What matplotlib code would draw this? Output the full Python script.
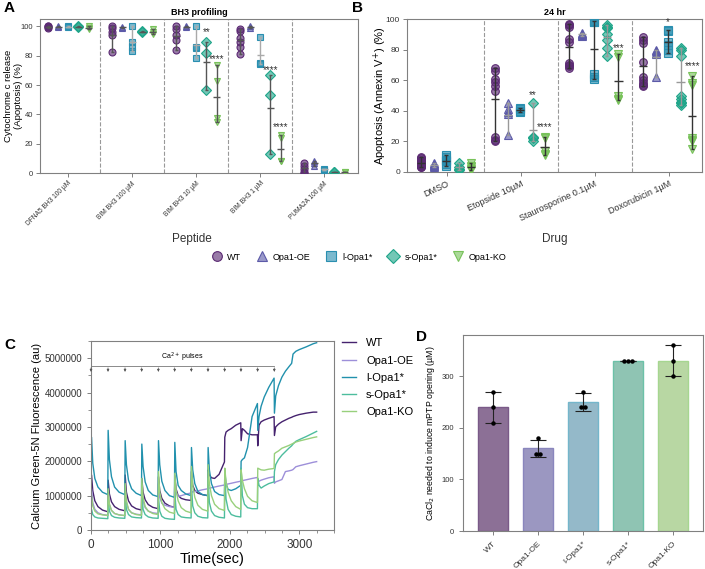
import numpy as np
import matplotlib.pyplot as plt
import matplotlib.ticker as mticker
from matplotlib.lines import Line2D

plt.rcParams['font.family'] = ['Liberation Sans', 'DejaVu Sans']

#region dados
genotipos = ['WT', 'Opa1-OE', 'l-Opa1*', 's-Opa1*', 'Opa1-KO']
cores = ['#5b2a73', '#5c5aa8', '#2a8fb0', '#1ea589', '#78c25a']
marcadores = ['o', '^', 's', 'D', 'v']

# painel A - BH3 profiling (%)
peptides = ['DFNA5 BH3 100 µM', 'BIM BH3 100 µM', 'BIM BH3 10 µM', 'BIM BH3 1 µM', 'PUMA2A 100 µM']
a_wt = [[100, 100, 99.5, 99], [100, 99, 96, 94, 82.5], [100, 98, 94, 91, 84], [98, 97, 92, 89, 86, 81], [7, 5, 3, 1, 0]]
a_oe = [[100, 99.5], [99.5, 99], [100, 99.5], [100, 99], [8.5, 7, 5]]
a_l = [[100, 99.5], [100, 89, 86, 83], [100, 86, 85, 78.5], [92.5, 75, 74], [3, 2]]
a_s = [[100, 99.5], [96.5, 96], [89.5, 82, 56.5], [66.5, 53, 13], [1, 0.5]]
a_ko = [[100, 99, 98.5], [98, 96, 95], [73.5, 63, 37.5, 34.5], [26, 24, 8, 8], [1, 0.5]]
a_estrelas = [(2, 3, '**', 96), (2, 4, '****', 77.5), (3, 3, '****', 70.5), (3, 4, '****', 31.5)]

# painel B - apoptose 24 hr (%)
drogas = ['DMSO', 'Etopside 10µM', 'Staurosporine 0.1µM', 'Doxorubicin 1µM']
b_wt = [[10, 9, 8, 7, 6, 5, 4.5, 4, 3.5, 3], [68, 66, 61, 59, 56, 53, 23, 21, 20],
        [97, 96, 95, 87, 85, 71, 70, 69, 68], [88, 86, 84, 72, 62, 60, 58, 57, 56]]
b_oe = [[6, 5, 4.5, 4, 3.5], [45, 41, 39, 38, 24], [91, 90, 89.5, 89], [80, 79, 78, 77, 62]]
b_l = [[11, 10, 8, 7, 5, 4], [42, 41, 40, 39], [99, 98, 98, 64, 62, 61], [93, 92, 85, 83, 80, 78]]
b_s = [[6, 3, 2, 1.5], [45, 23, 22, 20], [96, 95, 94, 90, 86, 81, 76], [81, 80, 76, 50, 48, 46, 45, 44]]
b_ko = [[6, 4, 3, 2, 1], [23, 22, 14, 12, 11], [77, 75, 50, 48, 47], [63, 58, 57, 22, 21, 20, 15]]
b_estrelas = [(1, 3, '**', 50), (1, 4, '****', 29.5), (2, 4, '***', 81), (3, 2, '*', 98), (3, 4, '****', 69)]

# painel C - Calcium Green-5N (milhoes)
pulsos = [0, 245, 490, 730, 970, 1205, 1445, 1685, 1925, 2160, 2400, 2640]
c_tempo = [0, 8, 25, 55, 100, 165, 242,
           247, 265, 295, 340, 405, 487,
           492, 510, 540, 585, 650, 727,
           732, 750, 780, 825, 890, 967,
           972, 990, 1020, 1065, 1130, 1202,
           1207, 1225, 1255, 1300, 1365, 1442,
           1447, 1465, 1495, 1540, 1605, 1682,
           1687, 1705, 1735, 1780, 1845, 1922,
           1927, 1945, 1975, 2020, 2085, 2157,
           2162, 2180, 2210, 2255, 2320, 2397,
           2402, 2420, 2450, 2495, 2560, 2637,
           2642, 2660, 2700, 2750, 2800, 2850, 2890, 2910, 2950, 3000, 3100, 3200, 3250]
c_wt = [1.0, 1.6, 1.15, 0.85, 0.68, 0.58, 0.53,
        1.45, 1.05, 0.82, 0.68, 0.6, 0.56,
        1.6, 1.1, 0.85, 0.7, 0.62, 0.58,
        1.5, 1.1, 0.88, 0.74, 0.66, 0.62,
        1.55, 1.15, 0.92, 0.78, 0.7, 0.66,
        1.58, 1.2, 1.0, 0.92, 0.88, 0.86,
        1.7, 1.3, 1.15, 1.07, 1.03, 1.0,
        1.75, 1.6, 1.52, 1.5, 1.62, 1.98,
        2.7, 2.85, 2.9, 2.95, 3.05, 3.12,
        2.6, 2.95, 2.9, 2.8, 2.77, 2.77,
        2.45, 3.05, 3.15, 3.2, 3.25, 3.3,
        2.75, 3.0, 3.08, 3.15, 3.2, 3.25, 3.28, 3.3, 3.33, 3.36, 3.4, 3.43, 3.43]
c_oe = [0.5, 1.2, 0.8, 0.6, 0.5, 0.45, 0.43,
        1.15, 0.75, 0.57, 0.48, 0.44, 0.42,
        1.2, 0.8, 0.6, 0.5, 0.46, 0.44,
        1.25, 0.85, 0.65, 0.55, 0.5, 0.48,
        1.35, 0.95, 0.78, 0.72, 0.68, 0.66,
        1.5, 1.1, 0.98, 1.0, 1.04, 1.08,
        1.1, 1.11, 1.12, 1.14, 1.17, 1.2,
        1.21, 1.22, 1.23, 1.25, 1.28, 1.31,
        1.32, 1.33, 1.34, 1.36, 1.39, 1.42,
        1.43, 1.44, 1.45, 1.47, 1.5, 1.53,
        1.4, 1.42, 1.45, 1.48, 1.52, 1.55,
        1.36, 1.4, 1.43, 1.47, 1.7, 1.72, 1.74, 1.76, 1.84, 1.87, 1.92, 1.97, 1.99]
c_l = [1.5, 2.7, 1.95, 1.5, 1.25, 1.1, 1.03,
       2.9, 2.05, 1.55, 1.25, 1.1, 1.03,
       2.6, 1.9, 1.45, 1.2, 1.07, 1.0,
       2.5, 1.85, 1.4, 1.15, 1.02, 0.97,
       2.6, 1.9, 1.42, 1.15, 1.0, 0.95,
       2.55, 1.7, 1.3, 1.15, 1.05, 1.0,
       2.4, 1.75, 1.35, 1.12, 1.03, 1.0,
       2.4, 1.75, 1.35, 1.12, 1.03, 1.0,
       1.7, 1.35, 1.18, 1.15, 1.2, 1.3,
       2.0, 2.05, 2.1, 2.4, 3.3, 3.68,
       2.9, 3.3, 3.6, 3.87, 4.15, 4.42,
       3.4, 3.9, 4.2, 4.45, 4.62, 4.75, 4.85, 5.12, 5.2, 5.25, 5.33, 5.42, 5.45]
c_s = [0.45, 0.6, 0.45, 0.38, 0.35, 0.34, 0.33,
       0.9, 0.55, 0.42, 0.37, 0.35, 0.34,
       1.0, 0.6, 0.45, 0.38, 0.36, 0.35,
       1.05, 0.6, 0.45, 0.38, 0.35, 0.34,
       0.95, 0.55, 0.4, 0.34, 0.32, 0.31,
       1.1, 0.6, 0.45, 0.38, 0.36, 0.35,
       1.3, 0.7, 0.5, 0.4, 0.36, 0.35,
       1.5, 0.8, 0.55, 0.42, 0.37, 0.35,
       1.65, 0.9, 0.6, 0.45, 0.4, 0.38,
       1.8, 1.0, 0.75, 0.65, 0.62, 0.62,
       1.5, 1.3, 1.22, 1.28, 1.35, 1.4,
       1.7, 1.9, 2.05, 2.18, 2.28, 2.38, 2.45, 2.5, 2.58, 2.63, 2.72, 2.82, 2.87]
c_ko = [0.5, 1.0, 0.7, 0.55, 0.47, 0.44, 0.42,
        1.2, 0.75, 0.57, 0.48, 0.44, 0.42,
        1.35, 0.85, 0.6, 0.5, 0.45, 0.43,
        1.5, 0.95, 0.68, 0.55, 0.48, 0.45,
        1.7, 1.1, 0.8, 0.62, 0.52, 0.48,
        1.65, 1.15, 0.85, 0.65, 0.55, 0.5,
        1.85, 1.3, 0.95, 0.72, 0.6, 0.55,
        1.9, 1.35, 1.0, 0.75, 0.62, 0.57,
        1.8, 1.4, 1.1, 0.85, 0.68, 0.6,
        1.75, 1.45, 1.2, 0.98, 0.85, 0.8,
        1.8, 1.78, 1.75, 1.74, 1.77, 1.79,
        2.22, 2.25, 2.3, 2.38, 2.42, 2.46, 2.5, 2.52, 2.56, 2.59, 2.64, 2.69, 2.71]
c_cores = ['#45226e', '#9d8fd9', '#2191ad', '#4dbd9e', '#98d07c']

# painel D - CaCl2 para abrir mPTP (uM)
d_pontos = [[270, 240, 210], [180, 150, 150], [270, 240, 240], [330, 330, 330], [360, 330, 300]]
d_cores = ['#8c7096', '#9b97c1', '#94b9c9', '#8fc4b3', '#b8d7a3']
d_bordas = ['#7a5a88', '#8a86bd', '#74b6cb', '#6cc1a8', '#a6d690']
#endregion

cinza = '#808080'

def estilo(ax, fs, pad=3.5):
    for s in ax.spines.values():
        s.set_color(cinza)
        s.set_linewidth(0.8)
    ax.tick_params(colors='#333333', labelsize=fs, width=0.7, length=3, direction='out', pad=pad)
    ax.tick_params(axis='both', color=cinza)

def pontos(ax, dados, offs, ms, cores_linha):
    for g, serie in enumerate(dados):
        face = plt.matplotlib.colors.to_rgba(cores[g], 0.62)
        for i, vals in enumerate(serie):
            x = i + offs[g]
            ax.plot([x] * len(vals), vals, ls='none', marker=marcadores[g], ms=ms,
                    mfc=face, mec=cores[g], mew=0.8, zorder=3)
            lo, hi, mu = min(vals), max(vals), np.mean(vals)
            ax.vlines(x, lo, hi, color=cores_linha[g], lw=1, zorder=4)
            ax.hlines([lo, hi], x - 0.025, x + 0.025, color=cores_linha[g], lw=1, zorder=4)
            ax.hlines(mu, x - 0.055, x + 0.055, color=cores_linha[g], lw=1, zorder=4)

fig = plt.figure(figsize=(7.05, 5.69), dpi=100)

#region painel A
ax = fig.add_axes([40/705, 1-173/569, 318/705, 154/569])
offs_a = [-0.31, -0.155, 0, 0.16, 0.325]
pontos(ax, [a_wt, a_oe, a_l, a_s, a_ko], offs_a, 5, ['#555555', '#555555', '#aaaaaa', '#555555', '#555555'])
for x in [0.5, 1.5, 2.5, 3.5]:
    ax.axvline(x, color='#999999', ls='--', lw=0.8, zorder=1)
for g, k, txt, y in a_estrelas:
    ax.text(g + offs_a[k], y, txt, ha='center', va='center', fontsize=7, color='#333333')
ax.set_xlim(-0.44, 4.53)
ax.set_ylim(0, 105)
ax.set_yticks([0, 20, 40, 60, 80, 100])
ax.set_xticks(range(len(peptides)))
ax.set_xticklabels(peptides, rotation=45, ha='right', rotation_mode='anchor')
estilo(ax, 5.5, pad=2)
ax.tick_params(axis='x', labelsize=4.8)
ax.set_ylabel('Cytochrome c release\n(Apoptosis) (%)', fontsize=6.8)
ax.yaxis.set_label_coords(-0.052, 0.5)
ax.set_title('BH3 profiling', fontsize=6.5, fontweight='bold', pad=3)
#endregion

#region painel B
ax = fig.add_axes([407/705, 1-172/569, 295/705, 153/569])
offs_b = [-0.35, -0.175, -0.01, 0.16, 0.32]
pontos(ax, [b_wt, b_oe, b_l, b_s, b_ko], offs_b, 5.5, ['#333333', '#999999', '#333333', '#999999', '#333333'])
for x in [0.5, 1.5, 2.5]:
    ax.axvline(x, color='#999999', ls='--', lw=0.8, zorder=1)
for g, k, txt, y in b_estrelas:
    ax.text(g + offs_b[k], y, txt, ha='center', va='center', fontsize=7, color='#333333')
ax.set_xlim(-0.54, 3.45)
ax.set_ylim(0, 100)
ax.set_yticks([0, 20, 40, 60, 80, 100])
ax.set_xticks(range(len(drogas)))
ax.set_xticklabels(drogas, rotation=25, ha='right', rotation_mode='anchor')
estilo(ax, 6, pad=2)
ax.tick_params(axis='x', labelsize=6.5)
ax.set_ylabel('Apoptosis (Annexin V$^{+}$) (%)', fontsize=8)
ax.yaxis.set_label_coords(-0.062, 0.5)
ax.set_title('24 hr', fontsize=6.5, fontweight='bold', pad=3)
#endregion

fig.text(192/705, 1-239/569, 'Peptide', ha='center', va='center', fontsize=8.5, color='#333333')
fig.text(555/705, 1-239/569, 'Drug', ha='center', va='center', fontsize=8.5, color='#333333')

alcas = [Line2D([], [], ls='none', marker=marcadores[g], ms=7, mfc=plt.matplotlib.colors.to_rgba(cores[g], 0.62),
                mec=cores[g], mew=0.8) for g in range(5)]
fig.legend(alcas, genotipos, loc='center', bbox_to_anchor=(357/705, 1-257/569), ncol=5, frameon=False,
           fontsize=6.5, handletextpad=0.2, columnspacing=1.3)

#region painel C
ax = fig.add_axes([91/705, 1-530/569, 243/705, 189/569])
t = np.array(c_tempo)
for g, serie in enumerate([c_wt, c_oe, c_l, c_s, c_ko]):
    ax.plot(t, np.array(serie) * 1e6, color=c_cores[g], lw=1, label=genotipos[g])
# colchete dos pulsos de Ca2+
ax.plot([pulsos[0], pulsos[-1]], [4.78e6, 4.78e6], color='#777777', lw=0.6)
for p in pulsos:
    ax.annotate('', xy=(p, 4.52e6), xytext=(p, 4.8e6),
                arrowprops=dict(arrowstyle='-|>', color='#555555', lw=0.5, mutation_scale=3.5))
ax.text((pulsos[0] + pulsos[-1]) / 2, 4.84e6, 'Ca$^{2+}$ pulses', ha='center', va='bottom', fontsize=5)
ax.set_xlim(0, 3500)
ax.set_ylim(0, 5.5e6)
ax.set_xticks([0, 1000, 2000, 3000])
ax.set_yticks([0, 1e6, 2e6, 3e6, 4e6, 5e6])
ax.xaxis.set_minor_locator(mticker.MultipleLocator(250))
ax.yaxis.set_minor_locator(mticker.MultipleLocator(5e5))
ax.yaxis.set_major_formatter(mticker.FormatStrFormatter('%d'))
estilo(ax, 7)
ax.tick_params(axis='x', labelsize=8.5)
ax.tick_params(which='minor', length=2, color=cinza, width=0.6)
ax.set_xlabel('Time(sec)', fontsize=10.5, labelpad=1)
ax.set_ylabel('Calcium Green-5N Fluorescence (au)', fontsize=8, labelpad=2)
ax.legend(loc='upper left', bbox_to_anchor=(1.0, 1.055), frameon=False, fontsize=8,
          handlelength=1.3, handletextpad=0.9, labelspacing=0.65, borderaxespad=0.3)
#endregion

#region painel D
ax = fig.add_axes([463/705, 1-531/569, 240/705, 196/569])
medias = [np.mean(v) for v in d_pontos]
desvios = [np.std(v, ddof=1) for v in d_pontos]
xs = np.arange(len(d_pontos))
ax.bar(xs, medias, width=0.67, color=d_cores, edgecolor=d_bordas, linewidth=1, zorder=2)
ax.errorbar(xs, medias, yerr=desvios, fmt='none', ecolor='#222222', elinewidth=0.8, capsize=6, capthick=0.8, zorder=3)
for i, vals in enumerate(d_pontos):
    # pontos repetidos ficam lado a lado
    usados = {}
    for v in vals:
        usados[v] = usados.get(v, 0) + 1
    for v, n in usados.items():
        dx = (np.arange(n) - (n - 1) / 2) * 0.09
        ax.plot(i + dx, [v] * n, 'o', color='black', ms=2.2, zorder=4)
ax.set_xlim(-0.67, 4.67)
ax.set_ylim(0, 380)
ax.set_yticks([0, 100, 200, 300])
ax.set_xticks(xs)
ax.set_xticklabels(genotipos, rotation=45, ha='right', rotation_mode='anchor')
estilo(ax, 5.5)
ax.tick_params(axis='x', labelsize=6)
ax.set_ylabel('CaCl$_2$ needed to induce mPTP opening (µM)', fontsize=6.3, labelpad=3)
#endregion

for letra, x, y in [('A', 4, 8), ('B', 352, 8), ('C', 4, 345), ('D', 416, 337)]:
    fig.text(x/705, 1-y/569, letra, fontsize=11, fontweight='bold', va='center', ha='left')

plt.savefig('out.png', dpi=100)
